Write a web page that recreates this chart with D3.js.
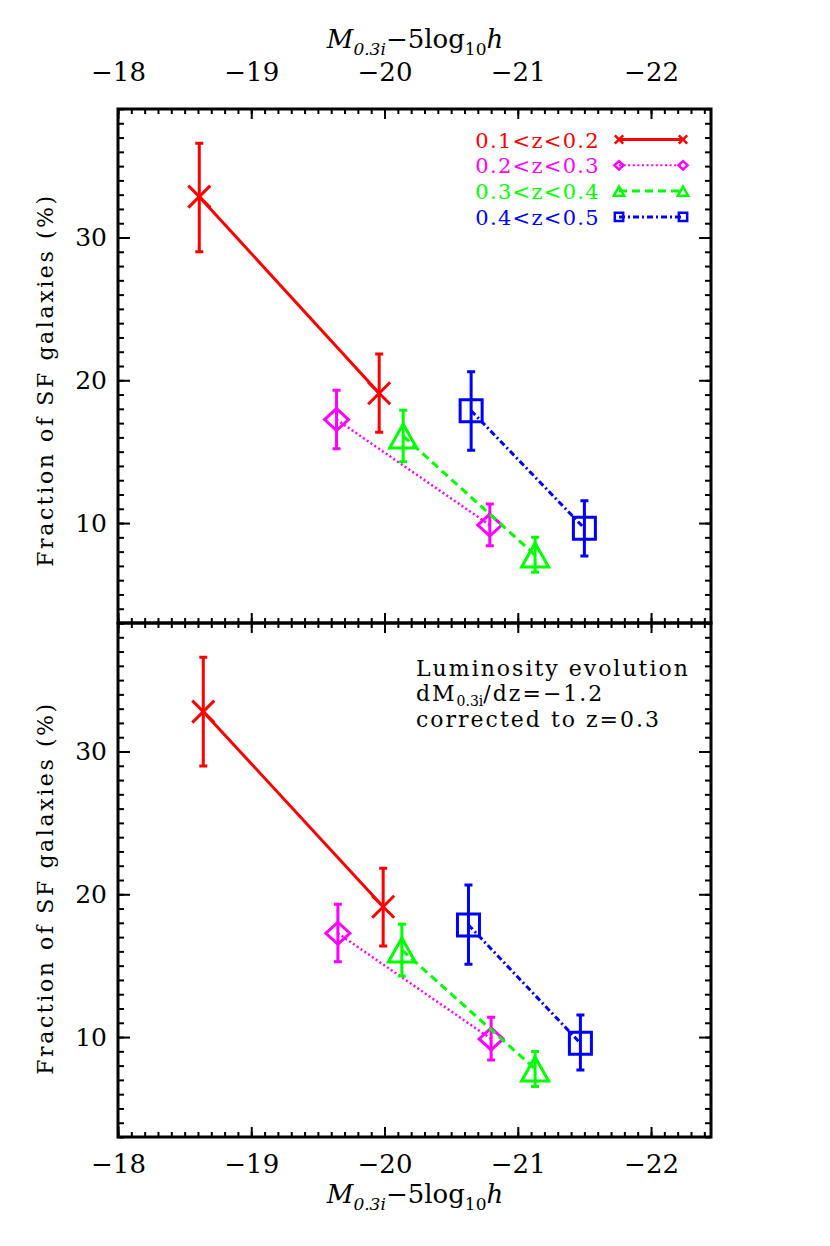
<!DOCTYPE html>
<html>
<head>
<meta charset="utf-8">
<script src="https://cdn.jsdelivr.net/npm/d3@7"></script>
<style>
  body { margin: 0; background: #fff; }
  svg text { font-family: "DejaVu Serif", serif; }
</style>
</head>
<body>
<svg id="chart" width="830" height="1246"></svg>
<script>
// redshift bins
const bins = ['0.1<z<0.2', '0.2<z<0.3', '0.3<z<0.4', '0.4<z<0.5']
const binColors = ['#ff0000', '#ff00ff', '#00ff00', '#0000ff']
const binSymbols = ['x', 'diamond', 'triangle', 'square']
const binDash = [null, '2,2.6', '8,5', '6,3,2,3']

// top panel: observed
const magTop = [[-18.61, -19.96], [-19.64, -20.79], [-20.14, -21.13], [-20.65, -21.50]]
const fracTop = [[32.86, 19.09], [17.25, 9.86], [16.1, 7.76], [17.87, 9.63]]
const loTop = [[29.0, 16.36], [15.2, 8.41], [14.3, 6.55], [15.1, 7.69]]
const hiTop = [[36.6, 21.84], [19.3, 11.33], [17.9, 9.0], [20.6, 11.56]]

// bottom panel: luminosity-evolution corrected
const magBot = [[-18.64, -19.99], [-19.65, -20.80], [-20.13, -21.13], [-20.63, -21.47]]
const fracBot = [[32.79, 19.13], [17.27, 9.87], [16.1, 7.77], [17.85, 9.57]]
const loBot = [[28.98, 16.38], [15.28, 8.4], [14.28, 6.53], [15.1, 7.7]]
const hiBot = [[36.6, 21.82], [19.3, 11.39], [17.9, 8.98], [20.65, 11.55]]

const xMajor = [-18, -19, -20, -21, -22]
const yMajor = [10, 20, 30]

const svg = d3.select('#chart')
const serif = '"DejaVu Serif", serif'
const pLeft = 118, pRight = 711, pTop = 109, pMid = 623, pBottom = 1137

const x = d3.scaleLinear().domain([-18, -22.45]).range([pLeft, pRight])
const yTop = d3.scaleLinear().domain([3, 39]).range([pMid, pTop])
const yBot = d3.scaleLinear().domain([3, 39]).range([pBottom, pMid])

const xMinor = d3.range(-18, -22.46, -0.1)
const yMinor = d3.range(3, 40, 1)
const intFmt = d3.format('d')

// marker shapes, s = scale
function markerPath(type, s) {
  if (type === 'x') {
    const a = 11 * s
    return `M${-a},${-a}L${a},${a}M${-a},${a}L${a},${-a}`
  } else if (type === 'diamond') {
    const w = 12 * s, h = 11 * s
    return `M0,${-h}L${w},0L0,${h}L${-w},0Z`
  } else if (type === 'triangle') {
    const w = 13.5 * s, h = 12 * s
    return `M0,${-h}L${w},${h}L${-w},${h}Z`
  }
  const a = 11 * s
  return `M${-a},${-a}H${a}V${a}H${-a}Z`
}

function drawFrame(y, titleShift) {
  const g = svg.append('g')
  const [y1, y0] = y.range()
  // inward ticks on all four sides
  g.append('g').attr('transform', `translate(0,${y0})`)
    .call(d3.axisBottom(x).tickValues(xMinor).tickSize(5).tickFormat(''))
  g.append('g').attr('transform', `translate(0,${y0})`)
    .call(d3.axisBottom(x).tickValues(xMajor).tickSize(10).tickFormat(''))
  g.append('g').attr('transform', `translate(0,${y1})`)
    .call(d3.axisTop(x).tickValues(xMinor).tickSize(5).tickFormat(''))
  g.append('g').attr('transform', `translate(0,${y1})`)
    .call(d3.axisTop(x).tickValues(xMajor).tickSize(10).tickFormat(''))
  g.append('g').attr('transform', `translate(${pLeft},0)`)
    .call(d3.axisRight(y).tickValues(yMinor).tickSize(6).tickFormat(''))
  g.append('g').attr('transform', `translate(${pLeft},0)`)
    .call(d3.axisRight(y).tickValues(yMajor).tickSize(12).tickFormat(''))
  g.append('g').attr('transform', `translate(${pRight},0)`)
    .call(d3.axisLeft(y).tickValues(yMinor).tickSize(6).tickFormat(''))
  g.append('g').attr('transform', `translate(${pRight},0)`)
    .call(d3.axisLeft(y).tickValues(yMajor).tickSize(12).tickFormat(''))
  g.selectAll('.domain').remove()
  g.selectAll('.tick line').attr('stroke', '#000').attr('stroke-width', 2)

  // y tick labels
  const yl = svg.append('g').attr('transform', `translate(${pLeft},0)`)
    .call(d3.axisLeft(y).tickValues(yMajor).tickSize(0).tickPadding(11).tickFormat(intFmt))
  yl.select('.domain').remove()
  yl.selectAll('text').attr('font-size', 25).style('font-family', serif).attr('fill', '#000')

  g.append('rect')
    .attr('x', pLeft).attr('y', y0).attr('width', pRight - pLeft).attr('height', y1 - y0)
    .attr('fill', 'none').attr('stroke', '#000').attr('stroke-width', 3)

  // y title
  svg.append('text')
    .attr('transform', `translate(53,${(y0 + y1) / 2 + titleShift}) rotate(-90)`)
    .attr('text-anchor', 'middle')
    .attr('font-size', 22)
    .attr('letter-spacing', 2.6)
    .style('font-family', serif)
    .text('Fraction of SF galaxies (%)')
}

function drawSeries(y, mags, fracs, los, his) {
  bins.forEach((b, i) => {
    const pts = mags[i].map((m, j) => ({ m, f: fracs[i][j], lo: los[i][j], hi: his[i][j] }))
    const g = svg.append('g').attr('stroke', binColors[i]).attr('fill', 'none')
    g.append('path')
      .attr('d', d3.line().x(d => x(d.m)).y(d => y(d.f))(pts))
      .attr('stroke-width', i === 1 ? 2.5 : 3)
      .attr('stroke-dasharray', binDash[i])
    pts.forEach(d => {
      const cx = x(d.m)
      g.append('path')
        .attr('d', `M${cx},${y(d.lo)}V${y(d.hi)}M${cx - 4},${y(d.lo)}h8M${cx - 4},${y(d.hi)}h8`)
        .attr('stroke-width', 3)
      g.append('path')
        .attr('transform', `translate(${cx},${y(d.f)})`)
        .attr('d', markerPath(binSymbols[i], 1))
        .attr('stroke-width', 3)
    })
  })
}

function xTitle(yBase) {
  const t = svg.append('text').attr('x', 415).attr('y', yBase)
    .attr('text-anchor', 'middle').attr('font-size', 26).style('font-family', serif)
  t.append('tspan').attr('font-style', 'italic').text('M')
  t.append('tspan').attr('font-style', 'italic').attr('font-size', 17).attr('dy', 7).text('0.3i')
  t.append('tspan').attr('dy', -7).text('−5log')
  t.append('tspan').attr('font-size', 17).attr('dy', 7).text('10')
  t.append('tspan').attr('font-style', 'italic').attr('dy', -7).text('h')
}

drawFrame(yTop, 14)
drawFrame(yBot, 8)

// x tick labels, top and bottom
const xt = svg.append('g').attr('transform', `translate(0,${pTop})`)
  .call(d3.axisTop(x).tickValues(xMajor).tickSize(0).tickPadding(28).tickFormat(intFmt))
const xb = svg.append('g').attr('transform', `translate(0,${pBottom})`)
  .call(d3.axisBottom(x).tickValues(xMajor).tickSize(0).tickPadding(18).tickFormat(intFmt))
;[xt, xb].forEach(a => {
  a.select('.domain').remove()
  a.selectAll('text').attr('font-size', 26)
    .style('font-family', serif).attr('fill', '#000')
})
xTitle(48)
xTitle(1203)

drawSeries(yTop, magTop, fracTop, loTop, hiTop)
drawSeries(yBot, magBot, fracBot, loBot, hiBot)

// legend
bins.forEach((b, i) => {
  const ry = 139.5 + i * 25.8
  svg.append('text')
    .attr('x', 600).attr('y', ry + 8)
    .attr('text-anchor', 'end').attr('font-size', 21)
    .attr('letter-spacing', 1.3)
    .style('font-family', serif)
    .attr('fill', binColors[i]).text(b)
  const g = svg.append('g').attr('stroke', binColors[i]).attr('fill', 'none')
  g.append('line').attr('x1', 619).attr('x2', 683).attr('y1', ry).attr('y2', ry)
    .attr('stroke-width', i === 1 ? 2 : 3).attr('stroke-dasharray', binDash[i])
  ;[619, 683].forEach(lx => {
    g.append('path').attr('transform', `translate(${lx},${ry})`)
      .attr('d', markerPath(binSymbols[i], 0.38)).attr('stroke-width', 2.5)
  })
})

// annotation in lower panel
const note = svg.append('g').attr('font-size', 22).attr('fill', '#000').style('font-family', serif)
note.append('text').attr('x', 416).attr('y', 676).attr('letter-spacing', 2).text('Luminosity evolution')
const n2 = note.append('text').attr('x', 416).attr('y', 701).attr('letter-spacing', 2)
n2.append('tspan').text('dM')
n2.append('tspan').attr('font-size', 14).attr('dy', 5).attr('letter-spacing', 0).text('0.3i')
n2.append('tspan').attr('dy', -5).text('/dz=−1.2')
note.append('text').attr('x', 416).attr('y', 727).attr('letter-spacing', 2).text('corrected to z=0.3')
</script>
</body>
</html>
